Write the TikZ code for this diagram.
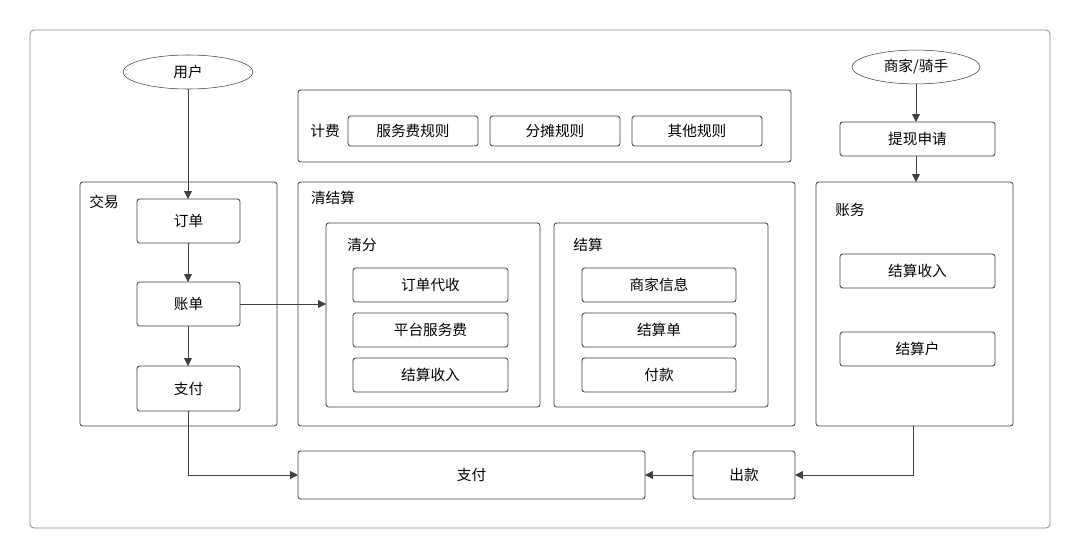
\documentclass[tikz,border=0pt]{standalone}
\usepackage{fontspec}
\setmainfont{Noto Sans CJK SC}
\usetikzlibrary{arrows.meta,shapes.geometric}
\newcommand{\lbl}{\fontsize{11}{13}\selectfont}
\tikzset{
  box/.style={draw=black!75, rounded corners=2pt, fill=white, line width=0.6pt},
  frame/.style={draw=black!55, rounded corners=3pt, line width=0.6pt},
  conn/.style={draw=black!75, line width=0.6pt, -{Triangle[length=6pt,width=6pt]}},
}
\newcommand{\rbox}[6]{\draw[#1] (#2,#3) rectangle (#4,#5) node[midway, font=\lbl] {#6};}
\begin{document}
\begin{tikzpicture}[x=0.0264cm, y=-0.0264cm]
\useasboundingbox (0,0) rectangle (1080,558);
\draw[frame, draw=black!45] (30,30) rectangle (1050,528);

% actors
\node[ellipse, draw=black!75, fill=white, minimum width=130*0.0264cm, minimum height=34*0.0264cm, font=\lbl] (user) at (188,72) {用户};
\node[ellipse, draw=black!75, fill=white, minimum width=128*0.0264cm, minimum height=32*0.0264cm, font=\lbl] (merchant) at (916,67) {商家/骑手};

% billing
\draw[box] (298,90) rectangle (791,162);
\node[font=\lbl] (fee) at (325,131) {计费};
\rbox{box}{348}{116}{478}{146}{服务费规则}
\rbox{box}{490}{116}{620}{146}{分摊规则}
\rbox{box}{632}{116}{762}{146}{其他规则}

\draw[box] (840,122) rectangle (995,156) node[midway, font=\lbl] (apply) {提现申请};

% trade
\draw[box] (80,182) rectangle (277,426);
\node[font=\lbl] (trade) at (104,202) {交易};
\draw[box] (137,199) rectangle (240,243) node[midway, font=\lbl] (order) {订单};
\draw[box] (137,282) rectangle (240,326) node[midway, font=\lbl] (bill) {账单};
\draw[box] (137,366) rectangle (240,411) node[midway, font=\lbl] (pay) {支付};

% clearing and settlement
\draw[box] (298,182) rectangle (795,426);
\node[font=\lbl] (clear) at (333,198) {清结算};
\draw[box] (326,223) rectangle (540,407);
\node[font=\lbl] (split) at (362,245) {清分};
\rbox{box}{353}{268}{508}{302}{订单代收}
\rbox{box}{353}{313}{508}{347}{平台服务费}
\rbox{box}{353}{358}{508}{392}{结算收入}
\draw[box] (554,223) rectangle (768,407);
\node[font=\lbl] (settle) at (588,245) {结算};
\rbox{box}{582}{268}{736}{302}{商家信息}
\rbox{box}{582}{313}{736}{347}{结算单}
\rbox{box}{582}{358}{736}{392}{付款}

% accounting
\draw[box] (816,182) rectangle (1013,426);
\node[font=\lbl] (acct) at (850,210) {账务};
\rbox{box}{840}{254}{995}{288}{结算收入}
\rbox{box}{840}{332}{995}{366}{结算户}

% payout
\draw[box] (298,451) rectangle (645,499) node[midway, font=\lbl] (payall) {支付};
\draw[box] (693,451) rectangle (795,499) node[midway, font=\lbl] (out) {出款};

% connectors
\coordinate (orderT) at (188,199);
\coordinate (orderB) at (188,243);
\coordinate (billT) at (188,282);
\coordinate (billB) at (188,326);
\coordinate (billR) at (240,304);
\coordinate (payT) at (188,366);
\coordinate (payB) at (188,411);
\coordinate (splitL) at (326,304);
\coordinate (payallL) at (298,475);
\coordinate (payallR) at (645,475);
\coordinate (outL) at (693,475);
\coordinate (outR) at (795,475);
\coordinate (acctB) at (913,426);
\coordinate (acctT) at (916,182);
\coordinate (applyT) at (916,122);
\coordinate (applyB) at (916,156);
\draw[conn] (user.south) -- (orderT);
\draw[conn] (orderB) -- (billT);
\draw[conn] (billB) -- (payT);
\draw[conn] (billR) -- (splitL);
\draw[conn] (payB) |- (payallL);
\draw[conn] (outL) -- (payallR);
\draw[conn] (acctB) |- (outR);
\draw[conn] (merchant.south) -- (applyT);
\draw[conn] (applyB) -- (acctT);
\end{tikzpicture}
\end{document}
